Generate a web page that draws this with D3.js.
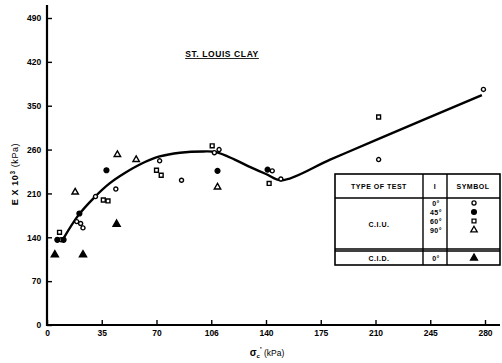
<!DOCTYPE html>
<html>
<head>
<meta charset="utf-8">
<script src="https://cdn.jsdelivr.net/npm/d3@7"></script>
<style>
  html, body { margin: 0; padding: 0; background: #fff; }
  svg { display: block; }
  text { font-family: "Liberation Sans", Arial, sans-serif; fill: #000; }
</style>
</head>
<body>
<svg id="chart" width="502" height="363"></svg>
<script>
// Axis ticks and their printed labels
const xTicks = [0, 35, 70, 105, 140, 175, 210, 245, 280];
const xTickLabels = ["0", "35", "70", "106", "140", "175", "210", "245", "280"];
const yTicks = [0, 70, 140, 210, 280, 350, 420, 490];
const yTickLabels = ["0", "70", "140", "210", "260", "350", "420", "490"];

// C.I.U. tests, i = 0 deg (open circles): [sigma'c kPa, E x 10^3 kPa]
const ciu0 = [[9, 136], [19, 165], [21.5, 162], [23, 155], [31, 205], [44, 217],
              [72, 262], [86, 231], [107, 275], [110, 280], [144, 246], [149.5, 233],
              [212, 264], [279, 376]];
// C.I.U., i = 45 deg (filled circles)
const ciu45 = [[6.6, 136], [10.6, 136], [20.7, 178], [38, 247], [109, 246], [141, 248]];
// C.I.U., i = 60 deg (open squares)
const ciu60 = [[8, 148], [36, 199.5], [39, 198], [70, 247], [73, 239], [105.6, 286],
               [142, 226], [212, 332]];
// C.I.U., i = 90 deg (open triangles)
const ciu90 = [[18, 212], [45, 272], [57, 264], [109, 220]];
// C.I.D., i = 0 deg (filled triangles)
const cid0 = [[5, 112], [23, 112], [44.5, 161]];

// Fitted trend curve
const fitX = [10, 20, 30, 40, 50, 60, 72, 85, 100, 108, 120, 130, 140, 150, 181, 212, 278];
const fitE = [136, 175, 203, 226, 243, 257, 269, 275, 277, 276, 264, 252, 241, 231, 264, 297, 367];

// Legend rows
const legendAngles = ["0°", "45°", "60°", "90°"];

const svg = d3.select("#chart");
const x = d3.scaleLinear().domain([0, 280]).range([47, 485]);
const y = d3.scaleLinear().domain([0, 490]).range([325, 18]);

// Axes with inward ticks
const xAxis = d3.axisBottom(x).tickValues(xTicks)
  .tickFormat((d, i) => xTickLabels[i]).tickSizeInner(-5).tickSizeOuter(0).tickPadding(5);
const yAxis = d3.axisLeft(y).tickValues(yTicks)
  .tickFormat((d, i) => yTickLabels[i]).tickSizeInner(-5).tickSizeOuter(0).tickPadding(5);

const gx = svg.append("g").attr("transform", `translate(0,${y(0)})`).call(xAxis);
const gy = svg.append("g").attr("transform", `translate(${x(0)},0)`).call(yAxis);
[gx, gy].forEach(g => {
  g.select(".domain").remove();
  g.selectAll(".tick line").attr("stroke", "#000").attr("stroke-width", 1.4);
  g.selectAll(".tick text").style("font-size", "8.5px").style("font-weight", "bold")
    .attr("fill", "#000");
});
gy.selectAll(".tick text").attr("dx", "-0.1em");

// Axis lines running past the tick range
svg.append("line").attr("x1", x(0) - 1).attr("x2", 500).attr("y1", y(0)).attr("y2", y(0))
  .attr("stroke", "#000").attr("stroke-width", 2.2);
svg.append("line").attr("x1", x(0)).attr("x2", x(0)).attr("y1", y(0) + 1).attr("y2", 5)
  .attr("stroke", "#000").attr("stroke-width", 2.2);

// Axis titles
const yLab = svg.append("text")
  .attr("transform", `translate(18,174) rotate(-90)`)
  .attr("text-anchor", "middle")
  .style("font-size", "9px").style("font-weight", "bold").style("letter-spacing", "0.6px");
yLab.append("tspan").text("E X 10");
yLab.append("tspan").attr("dy", "-3").style("font-size", "6.5px").text("3");
yLab.append("tspan").attr("dy", "3").style("font-weight", "normal").text("  (kPa)");

const xLab = svg.append("text")
  .attr("x", 267).attr("y", 356)
  .attr("text-anchor", "middle")
  .style("font-size", "8.5px").style("font-weight", "bold");
xLab.append("tspan").style("font-size", "10px").text("σ");
xLab.append("tspan").attr("dy", "2").style("font-size", "6px").text("c");
xLab.append("tspan").attr("dy", "-6").style("font-size", "7px").text("'");
xLab.append("tspan").attr("dy", "4").style("font-weight", "normal").text(" (kPa)");

// Title
svg.append("text").attr("x", 222).attr("y", 57).attr("text-anchor", "middle")
  .style("font-size", "8.5px").style("font-weight", "bold")
  .style("text-decoration", "underline").style("letter-spacing", "0.6px")
  .text("ST. LOUIS  CLAY");

// Trend curve
const fit = fitX.map((v, i) => [v, fitE[i]]);
svg.append("path").datum(fit)
  .attr("d", d3.line().x(d => x(d[0])).y(d => y(d[1])).curve(d3.curveCatmullRom.alpha(0.5)))
  .attr("fill", "none").attr("stroke", "#000").attr("stroke-width", 2.4)
  .attr("stroke-linejoin", "round");

// Marker definitions
const styles = {
  ciu0: { type: d3.symbolCircle, size: 13, fill: "#fff" },
  ciu45: { type: d3.symbolCircle, size: 18, fill: "#000" },
  ciu60: { type: d3.symbolSquare, size: 15, fill: "#fff" },
  ciu90: { type: d3.symbolTriangle, size: 18, fill: "#fff" },
  cid0: { type: d3.symbolTriangle, size: 22, fill: "#000" }
};
function drawPoints(data, st) {
  svg.append("g").selectAll("path").data(data).join("path")
    .attr("transform", d => `translate(${x(d[0])},${y(d[1])})`)
    .attr("d", d3.symbol().type(st.type).size(st.size))
    .attr("fill", st.fill).attr("stroke", "#000").attr("stroke-width", 1.4);
}
drawPoints(ciu60, styles.ciu60);
drawPoints(ciu0, styles.ciu0);
drawPoints(ciu90, styles.ciu90);
drawPoints(ciu45, styles.ciu45);
drawPoints(cid0, styles.cid0);

// Legend table
const tb = svg.append("g");
const L = 335, R = 500, T = 174, H1 = 198, H2 = 249, B = 265, C1 = 423, C2 = 447;
tb.append("rect").attr("x", L).attr("y", T).attr("width", R - L).attr("height", B - T)
  .attr("fill", "#fff").attr("stroke", "#000").attr("stroke-width", 1.6);
[[L, H1, R, H1], [L, H2, R, H2], [L, H2 + 2, R, H2 + 2], [C1, T, C1, B], [C2, T, C2, B]]
  .forEach(s => tb.append("line").attr("x1", s[0]).attr("y1", s[1]).attr("x2", s[2]).attr("y2", s[3])
    .attr("stroke", "#000").attr("stroke-width", 1.4));
const cellText = (tx, ty, t) => tb.append("text").attr("x", tx).attr("y", ty)
  .attr("text-anchor", "middle").attr("dominant-baseline", "central")
  .style("font-size", "7px").style("font-weight", "bold").style("letter-spacing", "0.5px").text(t);
cellText(379, 186, "TYPE OF TEST");
cellText(435, 186, "I");
cellText(473, 186, "SYMBOL");
cellText(379, 224, "C.I.U.");
cellText(379, 258, "C.I.D.");
const rowY = [203, 212, 221, 230];
legendAngles.forEach((a, i) => cellText(436, rowY[i], a));
cellText(436, 258, "0°");
const legStyles = [styles.ciu0, styles.ciu45, styles.ciu60, styles.ciu90];
legStyles.forEach((st, i) => {
  tb.append("path").attr("transform", `translate(474,${rowY[i]})`)
    .attr("d", d3.symbol().type(st.type).size(st.size))
    .attr("fill", st.fill).attr("stroke", "#000").attr("stroke-width", 1.3);
});
tb.append("path").attr("transform", `translate(474,258)`)
  .attr("d", d3.symbol().type(styles.cid0.type).size(styles.cid0.size))
  .attr("fill", "#000").attr("stroke", "#000").attr("stroke-width", 1.2);
</script>
</body>
</html>
